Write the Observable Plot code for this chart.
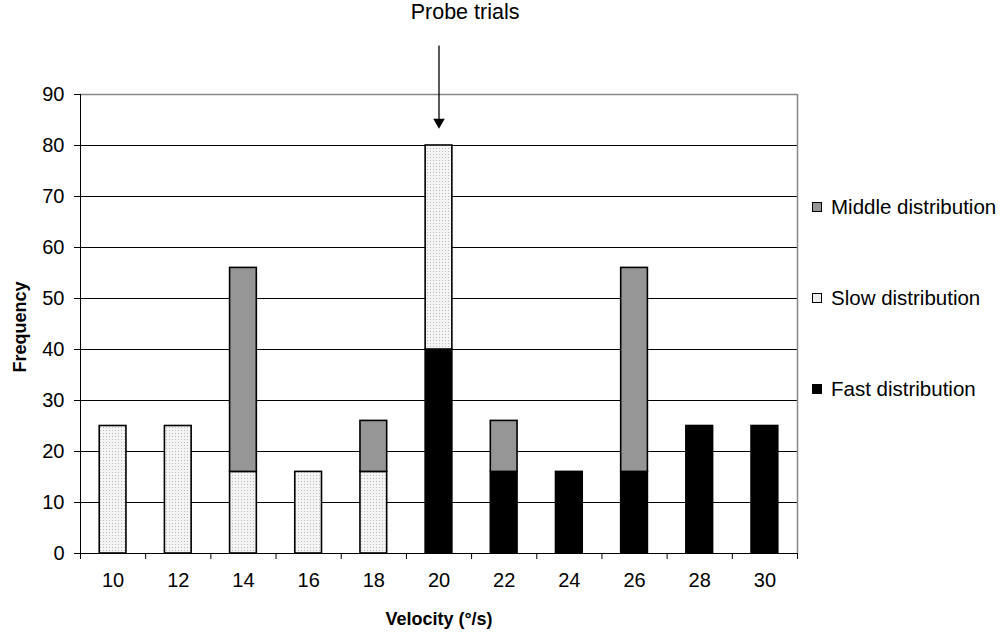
<!DOCTYPE html>
<html>
<head>
<meta charset="utf-8">
<script src="https://cdn.jsdelivr.net/npm/d3@7"></script>
<script src="https://cdn.jsdelivr.net/npm/@observablehq/plot@0.6"></script>
<style>
  html, body { margin: 0; padding: 0; background: #fff; }
  #chart { position: relative; width: 1002px; height: 632px; font-family: "Liberation Sans", Arial, sans-serif; }
  #legend { position: absolute; left: 812px; top: 0; }
  .item { position: absolute; left: 0; white-space: nowrap; font-size: 20.5px; line-height: 23px; color: #000; display: flex; align-items: center; }
  .swatch { width: 10px; height: 10px; border: 1px solid #000; margin-right: 9px; box-sizing: border-box; }
</style>
</head>
<body>
<div id="chart"><div id="legend"></div></div>
<script>
// Velocity categories (deg/s) and frequency per distribution
const velocities = [10, 12, 14, 16, 18, 20, 22, 24, 26, 28, 30];
const fastValues   = [0, 0, 0, 0, 0, 40, 16, 16, 16, 25, 25];
const slowValues   = [25, 25, 16, 16, 16, 40, 0, 0, 0, 0, 0];
const middleValues = [0, 0, 40, 0, 10, 0, 10, 0, 40, 0, 0];
const yTicks = [0, 10, 20, 30, 40, 50, 60, 70, 80, 90];
const probeVelocity = 20;
const seriesNames = ["Fast distribution", "Slow distribution", "Middle distribution"];

// Stack from the bottom: fast, then slow, then middle
const seriesValues = [fastValues, slowValues, middleValues];
const halfWidth = 0.41;
const bars = [];
velocities.forEach((v, i) => {
  let base = 0;
  seriesValues.forEach((vals, s) => {
    const val = vals[i];
    if (val > 0) {
      bars.push({v, series: seriesNames[s], x1: v - halfWidth, x2: v + halfWidth, y1: base, y2: base + val});
      base += val;
    }
  });
});
const probeTotal = d3.sum(seriesValues, vals => vals[velocities.indexOf(probeVelocity)]);

const fills = {
  "Fast distribution": "#000000",
  "Slow distribution": "url(#slowDots)",
  "Middle distribution": "#969696"
};

const boundaries = d3.range(velocities[0] - 1, velocities[velocities.length - 1] + 2, 2);

const barMarks = seriesNames.map(name =>
  Plot.rect(bars.filter(d => d.series === name), {
    x1: "x1", x2: "x2", y1: "y1", y2: "y2",
    fill: fills[name], stroke: "#000", strokeWidth: 1.6
  })
);

const plot = Plot.plot({
  width: 1002,
  height: 632,
  marginLeft: 80,
  marginRight: 205,
  marginTop: 94,
  marginBottom: 79,
  style: {fontFamily: "Liberation Sans, Arial, sans-serif", fontSize: "20px", background: "#fff"},
  x: {type: "linear", domain: [velocities[0] - 1, velocities[velocities.length - 1] + 1]},
  y: {type: "linear", domain: [0, 90]},
  marks: [
    // horizontal gridlines
    Plot.ruleY(yTicks.slice(1, -1), {stroke: "#000", strokeWidth: 1}),
    // plot-area border (top and right)
    Plot.ruleY([90], {stroke: "#888", strokeWidth: 1.5}),
    Plot.ruleX([boundaries[boundaries.length - 1]], {y1: 0, y2: 90, stroke: "#888", strokeWidth: 1.5}),
    // stacked bars
    ...barMarks,
    // axis lines
    Plot.ruleY([0], {stroke: "#000", strokeWidth: 1}),
    Plot.ruleX([boundaries[0]], {y1: 0, y2: 90, stroke: "#000", strokeWidth: 1}),
    // y ticks & labels
    Plot.axisY(yTicks, {tickSize: 6, tickPadding: 10, label: null, fontSize: 20, stroke: "#000"}),
    // x labels centred on categories, ticks on category boundaries
    Plot.axisX(velocities, {tickSize: 0, tickPadding: 19, label: null, fontSize: 20}),
    Plot.axisX(boundaries, {tickSize: 6, tickFormat: () => "", label: null}),
    // axis titles
    Plot.text(["Velocity (°/s)"], {frameAnchor: "bottom", dy: 71, fontWeight: "bold", fontSize: 18}),
    Plot.text(["Frequency"], {frameAnchor: "left", textAnchor: "middle", dx: -60, dy: 3, rotate: -90, fontWeight: "bold", fontSize: 18}),
    // probe trials annotation: shaft plus filled arrowhead
    Plot.ruleX([probeVelocity], {y1: probeTotal + 19.5, y2: probeTotal + 4.5, stroke: "#000", strokeWidth: 1.3}),
    Plot.dot([probeVelocity], {x: d => d, y: probeTotal + 4.6, symbol: "triangle2", rotate: 180, r: 5.5, fill: "#000", stroke: "none"}),
    Plot.text(["Probe trials"], {x: probeVelocity + 0.8, y: probeTotal + 26.2, fontSize: 21.5})
  ]
});

// dotted fill for the slow distribution
const defs = d3.select(plot).insert("defs", ":first-child");
const pat = defs.append("pattern").attr("id", "slowDots").attr("patternUnits", "userSpaceOnUse")
  .attr("width", 3).attr("height", 3);
pat.append("rect").attr("width", 3).attr("height", 3).attr("fill", "#f4f4f4");
pat.append("rect").attr("x", 1).attr("y", 1).attr("width", 1).attr("height", 1).attr("fill", "#bdbdbd");

document.getElementById("chart").prepend(plot);

// legend (top entry = top of stack)
const legendTops = {"Middle distribution": 195, "Slow distribution": 286, "Fast distribution": 377};
const legendSwatch = {"Middle distribution": "#969696", "Slow distribution": "#ececec", "Fast distribution": "#000"};
const legend = document.getElementById("legend");
seriesNames.slice().reverse().forEach(name => {
  const item = document.createElement("div");
  item.className = "item";
  item.style.top = legendTops[name] + "px";
  const sw = document.createElement("span");
  sw.className = "swatch";
  sw.style.background = legendSwatch[name];
  item.appendChild(sw);
  item.appendChild(document.createTextNode(name));
  legend.appendChild(item);
});
</script>
</body>
</html>
